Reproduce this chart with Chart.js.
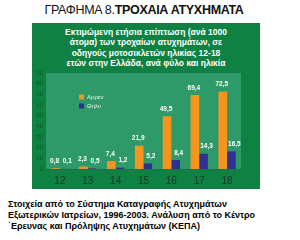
<!DOCTYPE html>
<html>
<head>
<meta charset="utf-8">
<script src="https://cdn.jsdelivr.net/npm/chart.js@4"></script>
<style>
  html, body { margin: 0; padding: 0; background: #fff; }
  body { width: 300px; height: 240px; position: relative; overflow: hidden; font-family: "Liberation Sans", Arial, sans-serif; }
  #title { position: absolute; left: 0; width: 288px; top: 3px; text-align: center; font-size: 12.5px; color: #111; letter-spacing: -0.3px; }
  #title b { font-weight: bold; }
  #box { position: absolute; left: 32px; top: 23px; width: 228px; height: 166px; background: #0f8142; }
  #sub { position: absolute; left: 0; top: 4px; width: 228px; text-align: center; color: #fff; font-weight: bold; font-size: 8.5px; line-height: 10.4px; }
  #chartWrap { position: absolute; left: 0; top: 43px; width: 228px; height: 123px; }
  #foot { position: absolute; left: 8px; top: 199px; width: 292px; font-weight: bold; font-size: 9px; line-height: 11px; color: #000; }
</style>
</head>
<body>
<div id="title">ΓΡΑΦΗΜΑ 8.<b>ΤΡΟΧΑΙΑ ΑΤΥΧΗΜΑΤΑ</b></div>
<div id="box">
  <div id="sub">Εκτιμώμενη ετήσια επίπτωση (ανά 1000<br>άτομα) των τροχαίων ατυχημάτων, σε<br>οδηγούς μοτοσικλετών ηλικίας 12-18<br>ετών στην Ελλάδα, ανά φύλο και ηλικία</div>
  <div id="chartWrap"><canvas id="c"></canvas></div>
</div>
<div id="foot">Στοιχεία από το Σύστημα Καταγραφής Ατυχημάτων<br>Εξωτερικών Ιατρείων, 1996-2003. Ανάλυση από το Κέντρο<br>΄Ερευνας και Πρόληψης Ατυχημάτων (ΚΕΠΑ)</div>
<script>
    var ages = ['12', '13', '14', '15', '16', '17', '18'];
    var maleValues = [0.8, 2.3, 7.4, 21.9, 49.5, 69.4, 72.5];
    var femaleValues = [0.1, 0.5, 1.2, 5.2, 8.4, 14.3, 16.5];
    var seriesNames = ['Αρρεν', 'Θηλυ'];
    var seriesColors = ['#f7941d', '#2e3192'];

    // plot area fill
    var plotBg = {
        id: 'plotBg',
        beforeDraw: function (chart) {
            var a = chart.chartArea, ctx = chart.ctx;
            ctx.save();
            ctx.fillStyle = '#2e9a69';
            ctx.fillRect(a.left, a.top, a.right - a.left, a.bottom - a.top);
            ctx.restore();
        }
    };

    // value labels above bars, comma decimals (blue ones sit a bit to the right)
    var valueLabels = {
        id: 'valueLabels',
        afterDatasetsDraw: function (chart) {
            var ctx = chart.ctx;
            ctx.save();
            ctx.fillStyle = '#ffffff';
            ctx.font = 'bold 6.5px "Liberation Sans", Arial, sans-serif';
            ctx.textAlign = 'center';
            ctx.textBaseline = 'bottom';
            chart.data.datasets.forEach(function (ds, i) {
                var dx = i === 0 ? -1 : 3;
                chart.getDatasetMeta(i).data.forEach(function (bar, j) {
                    var txt = ds.data[j].toFixed(1).replace('.', ',');
                    ctx.fillText(txt, bar.x + dx, bar.y - 4);
                });
            });
            ctx.restore();
        }
    };

    // legend inside the plot
    var innerLegend = {
        id: 'innerLegend',
        afterDraw: function (chart) {
            var ctx = chart.ctx;
            var x = chart.chartArea.left + 33, y = chart.chartArea.top + 24;
            ctx.save();
            ctx.font = '6px "Liberation Sans", Arial, sans-serif';
            ctx.textBaseline = 'middle';
            chart.data.datasets.forEach(function (ds, i) {
                var yy = y + i * 9;
                ctx.fillStyle = ds.backgroundColor;
                ctx.fillRect(x, yy - 2.5, 5, 5);
                ctx.fillStyle = '#e8f0e8';
                ctx.fillText(ds.label, x + 8, yy);
            });
            ctx.restore();
        }
    };

    new Chart(document.getElementById('c'), {
        type: 'bar',
        data: {
            labels: ages,
            datasets: [
                { label: seriesNames[0], data: maleValues, backgroundColor: seriesColors[0] },
                { label: seriesNames[1], data: femaleValues, backgroundColor: seriesColors[1] }
            ]
        },
        options: {
            responsive: true, maintainAspectRatio: false, animation: false,
            layout: { padding: { top: 7, right: 19, left: 0, bottom: 0 } },
            datasets: { bar: { barPercentage: 1, categoryPercentage: 0.62 } },
            scales: {
                x: {
                    grid: { display: false, drawTicks: false },
                    border: { display: true, color: '#1f7048', width: 1 },
                    ticks: { color: '#123a22', font: { size: 10, family: '"Liberation Sans", Arial, sans-serif' }, padding: 6 },
                    afterFit: function (s) { s.height = 20; }
                },
                y: {
                    min: 0, max: 90,
                    grid: { display: false, drawTicks: false },
                    border: { display: false },
                    ticks: { stepSize: 10, color: '#0b5a2c', font: { size: 6, family: '"Liberation Sans", Arial, sans-serif' }, padding: 3 },
                    afterFit: function (s) { s.width = 14; }
                }
            },
            plugins: {
                legend: { display: false },
                title: { display: false },
                tooltip: { enabled: false }
            }
        },
        plugins: [plotBg, valueLabels, innerLegend]
    });
</script>
</body>
</html>
